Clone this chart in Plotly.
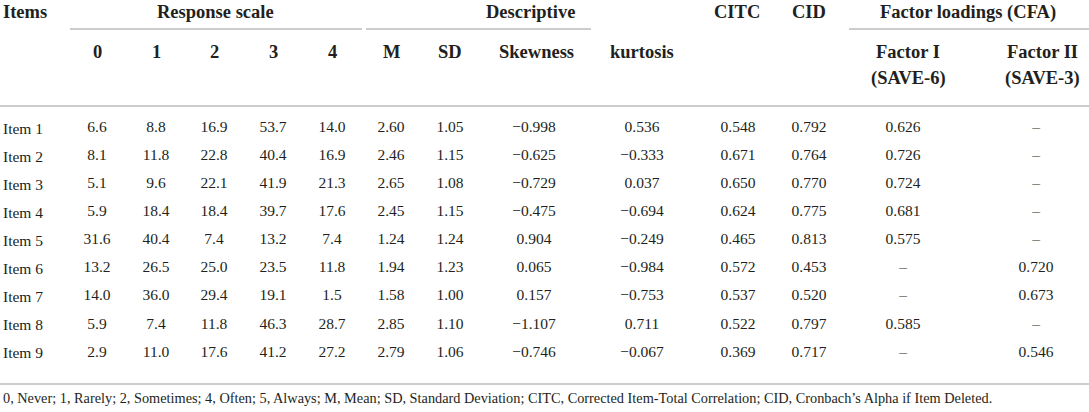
import plotly.graph_objects as go

# ---------------- data ----------------
items = ["Item 1", "Item 2", "Item 3", "Item 4", "Item 5", "Item 6", "Item 7", "Item 8", "Item 9"]
scale0 = ["6.6", "8.1", "5.1", "5.9", "31.6", "13.2", "14.0", "5.9", "2.9"]
scale1 = ["8.8", "11.8", "9.6", "18.4", "40.4", "26.5", "36.0", "7.4", "11.0"]
scale2 = ["16.9", "22.8", "22.1", "18.4", "7.4", "25.0", "29.4", "11.8", "17.6"]
scale3 = ["53.7", "40.4", "41.9", "39.7", "13.2", "23.5", "19.1", "46.3", "41.2"]
scale4 = ["14.0", "16.9", "21.3", "17.6", "7.4", "11.8", "1.5", "28.7", "27.2"]
mean_vals = ["2.60", "2.46", "2.65", "2.45", "1.24", "1.94", "1.58", "2.85", "2.79"]
sd_vals = ["1.05", "1.15", "1.08", "1.15", "1.24", "1.23", "1.00", "1.10", "1.06"]
skewness = ["\u22120.998", "\u22120.625", "\u22120.729", "\u22120.475", "0.904", "0.065", "0.157", "\u22121.107", "\u22120.746"]
kurtosis = ["0.536", "\u22120.333", "0.037", "\u22120.694", "\u22120.249", "\u22120.984", "\u22120.753", "0.711", "\u22120.067"]
citc = ["0.548", "0.671", "0.650", "0.624", "0.465", "0.572", "0.537", "0.522", "0.369"]
cid = ["0.792", "0.764", "0.770", "0.775", "0.813", "0.453", "0.520", "0.797", "0.717"]
factor1 = ["0.626", "0.726", "0.724", "0.681", "0.575", "\u2013", "\u2013", "0.585", "\u2013"]
factor2 = ["\u2013", "\u2013", "\u2013", "\u2013", "\u2013", "0.720", "0.673", "\u2013", "0.546"]

col_headers = ["0", "1", "2", "3", "4", "M", "SD", "Skewness", "kurtosis", "CITC", "CID", "Factor I", "Factor II"]
group_headers = ["Response scale", "Descriptive", "Factor loadings (CFA)"]
sub_headers = ["(SAVE-6)", "(SAVE-3)"]
footnote = ("0, Never; 1, Rarely; 2, Sometimes; 4, Often; 5, Always; M, Mean; SD, Standard Deviation; "
            "CITC, Corrected Item-Total Correlation; CID, Cronbach\u2019s Alpha if Item Deleted.")

# ---------------- layout constants ----------------
W, H = 1089, 412
FONT = "Liberation Serif"
TXT = "#231f20"
LINE = "#cccccc"
DATA_SIZE = 15.5
HDR_SIZE = 18.5
row0, row_step = 128, 28.1
row_y = [row0 + i * row_step for i in range(len(items))]

columns = [scale0, scale1, scale2, scale3, scale4, mean_vals, sd_vals, skewness, kurtosis, citc, cid, factor1, factor2]
val_x = [97, 156, 214, 273, 332, 391, 450, 534, 642, 738, 809, 903, 1036]
hdr_x = [97, 156, 214, 273, 332, 391, 450, 536, 642, 737, 809, 908, 1042]

fig = go.Figure()

# data columns
for vals, x in zip(columns, val_x):
    fig.add_trace(go.Scatter(x=[x] * len(vals), y=row_y, text=vals, mode="text",
                             textposition="middle center", hoverinfo="skip",
                             textfont=dict(family=FONT, size=DATA_SIZE, color=TXT)))

# item labels
for it, y in zip(items, row_y):
    fig.add_annotation(x=1, y=y, text=it, showarrow=False, xanchor="left", yanchor="middle",
                       font=dict(family=FONT, size=DATA_SIZE, color=TXT))

def hdr(text, x, y, anchor="center"):
    fig.add_annotation(x=x, y=y, text="<b>%s</b>" % text, showarrow=False, xanchor=anchor,
                       yanchor="middle", font=dict(family=FONT, size=HDR_SIZE, color=TXT))

hdr("Items", 1, 12, "left")
for g, x in zip(group_headers, [215, 530, 968]):
    hdr(g, x, 12)
for h, x in zip(col_headers, hdr_x):
    if h in ("CITC", "CID"):
        hdr(h, x, 12)
    else:
        hdr(h, x, 52)
for s, x in zip(sub_headers, hdr_x[-2:]):
    hdr(s, x, 78)

fig.add_annotation(x=1, y=398, text=footnote, showarrow=False, xanchor="left", yanchor="middle",
                   font=dict(family=FONT, size=14.3, color=TXT))

# rules
for x0, x1, y in [(70, 362, 29), (366, 591, 29), (849, W, 29), (0, W, 106), (0, W, 384)]:
    fig.add_shape(type="line", x0=x0, x1=x1, y0=y, y1=y, xref="x", yref="y",
                  line=dict(color=LINE, width=2))

fig.update_layout(width=W, height=H, margin=dict(l=0, r=0, t=0, b=0),
                  paper_bgcolor="white", plot_bgcolor="white", showlegend=False,
                  xaxis=dict(range=[0, W], visible=False, fixedrange=True),
                  yaxis=dict(range=[H, 0], visible=False, fixedrange=True))

fig.write_html("out.html", config={"displayModeBar": False},
               post_script="document.body.style.margin='0';document.body.style.overflow='hidden';")
